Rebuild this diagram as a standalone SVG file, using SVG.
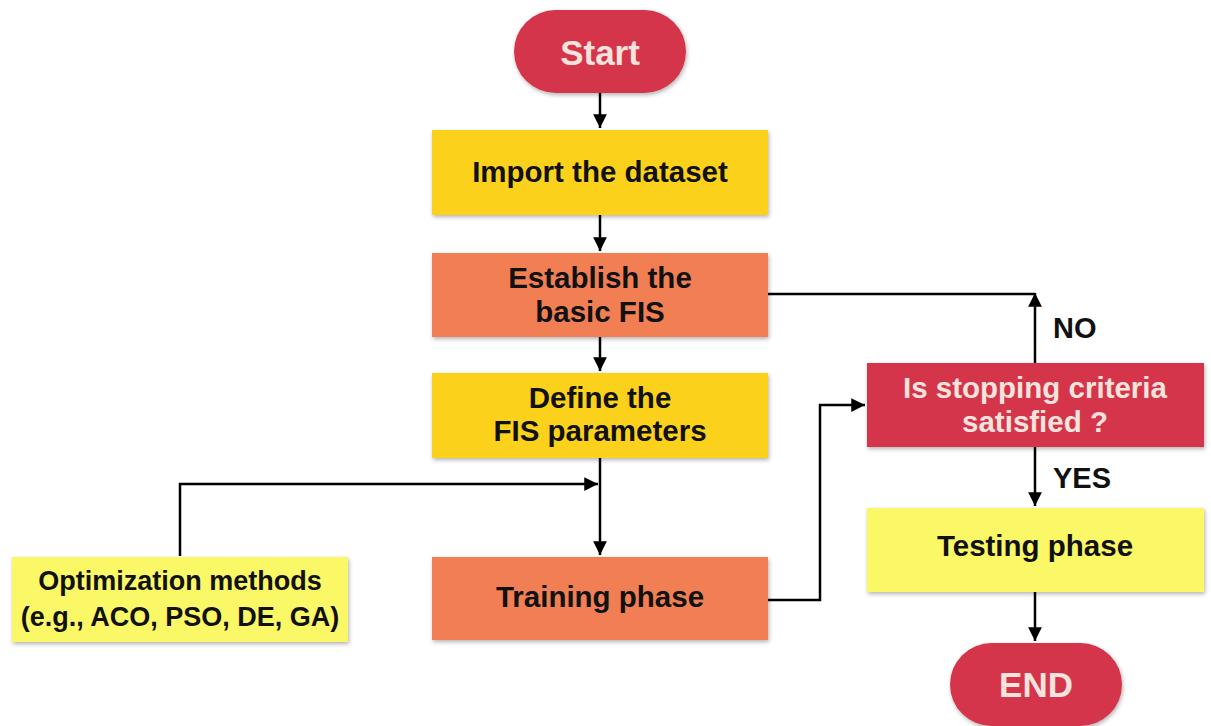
<svg xmlns="http://www.w3.org/2000/svg" width="1211" height="726" viewBox="0 0 1211 726">
<defs>
<filter id="sh" x="-10%" y="-10%" width="120%" height="130%">
<feDropShadow dx="1" dy="2" stdDeviation="2" flood-color="#000" flood-opacity="0.3"/>
</filter>
<marker id="ah" viewBox="0 0 10 10" refX="10" refY="5" markerWidth="5.5" markerHeight="5.5" orient="auto" markerUnits="strokeWidth">
<path d="M0,0 L10,5 L0,10 z" fill="#000"/>
</marker>
<style>
.t{font-family:"Liberation Sans",Arial,sans-serif;font-weight:bold;font-size:29.5px;fill:#111;text-anchor:middle}
.w{fill:#F7E3DD;font-size:35px}
.c{fill:none;stroke:#000;stroke-width:2.5}
.red{fill:#D5364B;filter:url(#sh)}
.yel{fill:#FCD11E;filter:url(#sh)}
.org{fill:#F27E52;filter:url(#sh)}
.lyl{fill:#FAF866;filter:url(#sh)}
.lbl{font-family:"Liberation Sans",Arial,sans-serif;font-weight:bold;font-size:29px;fill:#111}
</style>
</defs>
<rect width="1211" height="726" fill="#fff"/>
<g id="connectors">
<path class="c" d="M600,93 V128" marker-end="url(#ah)"/>
<path class="c" d="M600,215 V251" marker-end="url(#ah)"/>
<path class="c" d="M600,337 V371" marker-end="url(#ah)"/>
<path class="c" d="M600,458 V555" marker-end="url(#ah)"/>
<path class="c" d="M180,556 V484 H598" marker-end="url(#ah)"/>
<path class="c" d="M768,600 H820 V405 H865" marker-end="url(#ah)"/>
<path class="c" d="M768,294 H1035"/>
<path class="c" d="M1035,363 V293" marker-end="url(#ah)"/>
<path class="c" d="M1035,447 V506" marker-end="url(#ah)"/>
<path class="c" d="M1035,592 V641" marker-end="url(#ah)"/>
</g>
<g id="start"><rect class="red" x="514" y="10" width="172" height="83" rx="41.5"/><text class="t w" x="600" y="65">Start</text></g>
<g id="import"><rect class="yel" x="432" y="130" width="336" height="85"/><text class="t" x="600" y="182">Import the dataset</text></g>
<g id="establish"><rect class="org" x="432" y="253" width="336" height="84"/><text class="t" x="600" y="288">Establish the</text><text class="t" x="600" y="322">basic FIS</text></g>
<g id="define"><rect class="yel" x="432" y="373" width="336" height="85"/><text class="t" x="600" y="408">Define the</text><text class="t" x="600" y="441">FIS parameters</text></g>
<g id="optimization"><rect class="lyl" x="12" y="557" width="336" height="85"/><text class="t" x="180" y="590" style="font-size:27px">Optimization methods</text><text class="t" x="180" y="626" style="font-size:27px">(e.g., ACO, PSO, DE, GA)</text></g>
<g id="training"><rect class="org" x="432" y="557" width="336" height="83"/><text class="t" x="600" y="607">Training phase</text></g>
<g id="decision"><rect class="red" x="867" y="363" width="337" height="84"/><text class="t" x="1035" y="398" style="fill:#F7E3DD">Is stopping criteria</text><text class="t" x="1035" y="432" style="fill:#F7E3DD">satisfied ?</text></g>
<g id="testing"><rect class="lyl" x="867" y="508" width="337" height="84"/><text class="t" x="1035" y="556">Testing phase</text></g>
<g id="end"><rect class="red" x="950" y="643" width="172" height="83" rx="41.5"/><text class="t w" x="1036" y="697">END</text></g>
<text class="lbl" x="1053" y="338">NO</text>
<text class="lbl" x="1053" y="488">YES</text>
</svg>
